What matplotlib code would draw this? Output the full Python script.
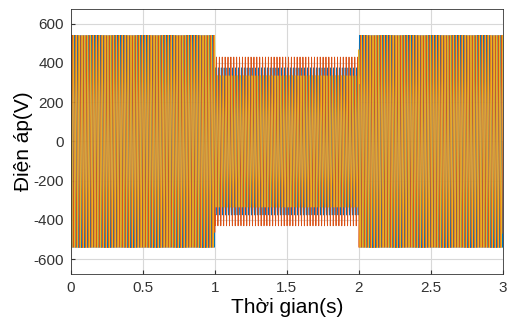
import matplotlib.pyplot as plt
import numpy as np

plt.rcParams['font.family'] = ['Liberation Sans', 'DejaVu Sans']
plt.rcParams['axes.unicode_minus'] = False

# segment boundaries (s) and peak voltage of each phase in each segment (V)
seg_edges = [0.0, 1.0, 2.0, 3.0]
amp_a = [540, 375, 540]   # blue
amp_b = [540, 430, 540]   # red
amp_c = [540, 335, 540]   # yellow
freq = 50.0
phase_deg = [0, -120, 120]
colors = ["#0072BD", "#D95319", "#EDB120"]

t = np.linspace(0, 3, 60001)
seg = np.clip(np.searchsorted(seg_edges, t, side="right") - 1, 0, 2)

fig = plt.figure(figsize=(5.09, 3.2), dpi=100)
ax = fig.add_axes([0.139, 0.144, 0.849, 0.828])

for amps, ph, c in zip([amp_a, amp_b, amp_c], phase_deg, colors):
    a = np.array(amps)[seg]
    ax.plot(t, a * np.sin(2 * np.pi * freq * t + np.deg2rad(ph)), color=c, lw=0.6)

ax.set_xlim(0, 3)
ax.set_ylim(-675, 675)
ax.set_xticks(np.arange(0, 3.01, 0.5))
ax.set_xticklabels(["0", "0.5", "1", "1.5", "2", "2.5", "3"])
ax.set_yticks(np.arange(-600, 601, 200))
ax.tick_params(direction="in", labelsize=11, colors="#333333", length=3, pad=5)
ax.grid(color="#d8d8d8", lw=0.8)
ax.set_axisbelow(True)
for s in ax.spines.values():
    s.set_color("#333333")
    s.set_linewidth(0.6)

ax.set_xlabel("Thời gian(s)", fontsize=15, labelpad=2)
ax.set_ylabel("Điện áp(V)", fontsize=15, labelpad=0)

fig.savefig("out.png", dpi=100)
